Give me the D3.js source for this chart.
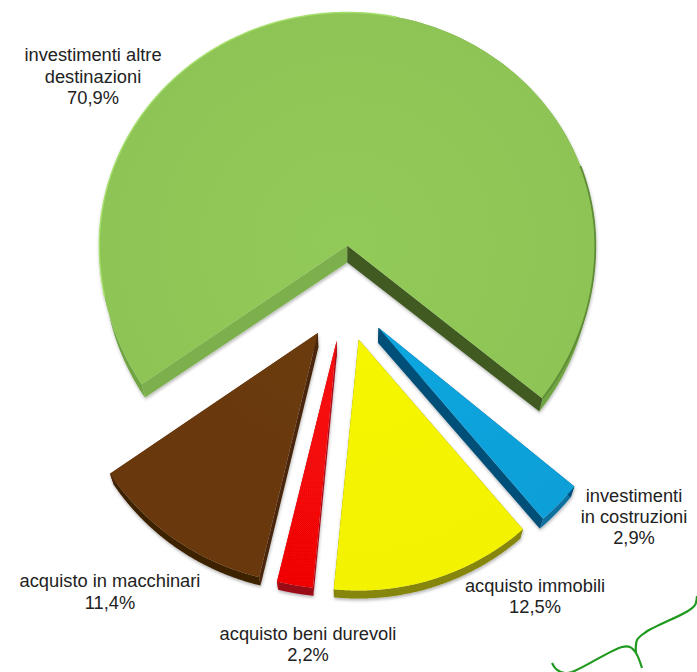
<!DOCTYPE html>
<html><head><meta charset="utf-8">
<style>html,body{margin:0;padding:0;background:#fff}svg{display:block}</style>
<script src="https://cdn.jsdelivr.net/npm/d3@7"></script></head><body>
<svg id="c" width="697" height="672"></svg>
<script>
const categories=["investimenti altre destinazioni","investimenti in costruzioni","acquisto immobili","acquisto beni durevoli","acquisto in macchinari"];
const values=[70.9,2.9,12.5,2.2,11.4];
const valueLabels=["70,9%","2,9%","12,5%","2,2%","11,4%"];
const labelLines=[["investimenti altre","destinazioni"],["investimenti","in costruzioni"],["acquisto immobili"],["acquisto beni durevoli"],["acquisto in macchinari"]];
const labelX=[93,634,535,308,110];
const labelY=[61,502,592,640,587];
const labelGap=[21.5,21,21,21,22];
const faceInner=["#92ca59","#0aa6de","#f6f600","#f80808","#6c3b0b"];
const faceOuter=["#8ec455","#0a9fd8","#f3f205","#f00606","#693709"];
const rimColor=["#6fa443","#0b6f9f","#86860a","#9a0c18","#3d2006"];
const startEdge=["#7db04e","#05507a","#86860a","#a8101c","#4a2808"];
const endEdge=["#3f5a22","#054f78","#86860a","#b00a14","#4a2808"];
const radii=[248,252,251,248,251];
const nudgeStart=[1,-1.5,-1.8,-0.5,-0.4];
const nudgeEnd=[-2.4,-1.7,-0.3,0,0.9];

const cx=345,cy=293.5,explode=48;
const deg=Math.PI/180;
const svg=d3.select("#c");
const defs=svg.append("defs");
const f=defs.append("filter").attr("id","soft").attr("x","-10%").attr("y","-10%").attr("width","120%").attr("height","120%");
f.append("feGaussianBlur").attr("in","SourceGraphic").attr("stdDeviation",0.6).attr("result","b");
f.append("feDropShadow").attr("in","b").attr("dx",0.5).attr("dy",2).attr("stdDeviation",1.8).attr("flood-color","#000").attr("flood-opacity",0.28);
const pie=d3.pie().sort(null).startAngle(235*deg).endAngle((235+360)*deg);
const arcs=pie(values);
const line=d3.line();
// the far half of the disc is foreshortened by the 3D view
const foreshorten=d3.scaleLinear().domain([-1,0,1]).range([-0.94,0,1]);
const back=([x,y])=>[x-(x-346)*0.016,y+17-0.026*(y-245)];
const root=svg.append("g");
arcs.forEach((d,i)=>{
  const mid=(d.startAngle+d.endAngle)/2;
  const o=[cx+explode*Math.sin(mid),cy-explode*Math.cos(mid)];
  const a0=d.startAngle+nudgeStart[i]*deg,a1=d.endAngle+nudgeEnd[i]*deg,R=radii[i];
  const P=a=>[o[0]+R*Math.sin(a),o[1]+R*foreshorten(-Math.cos(a))];
  const g=root.append("g").attr("filter","url(#soft)");
  const A=P(a0),B=P(a1);
  const rimPts=d3.range(0,1.0001,0.005).map(t=>P(a0+t*(a1-a0)));
  g.append("path").attr("d",line(rimPts.concat(rimPts.map(back).reverse()))+"Z").attr("fill",rimColor[i]);
  g.append("path").attr("d",line([o,A,back(A),back(o)])+"Z").attr("fill",startEdge[i]);
  g.append("path").attr("d",line([o,B,back(B),back(o)])+"Z").attr("fill",endEdge[i]);
  const grad=defs.append("radialGradient").attr("id","f"+i).attr("gradientUnits","userSpaceOnUse")
    .attr("cx",o[0]).attr("cy",o[1]).attr("r",R);
  grad.append("stop").attr("offset",0).attr("stop-color",faceInner[i]);
  grad.append("stop").attr("offset",1).attr("stop-color",faceOuter[i]);
  g.append("path").attr("d",line([o].concat(rimPts))+"Z").attr("fill",`url(#f${i})`);
  if(i===0){
    const arcPts=(s,e)=>d3.range(s,e,0.5).map(v=>P(v*deg));
    g.append("path").attr("d",line(arcPts(258,372))).attr("fill","none").attr("stroke","#a6e06c").attr("stroke-width",1.4);
    g.append("path").attr("d",line(arcPts(360+70,a1/deg))).attr("fill","none").attr("stroke","#5f8c36").attr("stroke-width",1.8);
  }
});
const t=svg.append("g").attr("font-family","'Liberation Sans',Arial,sans-serif").attr("font-size",18.3).attr("fill","#222").attr("text-anchor","middle");
categories.forEach((c,i)=>{
  const lines=labelLines[i].concat([valueLabels[i]]);
  lines.forEach((s,j)=>t.append("text").attr("x",labelX[i]).attr("y",labelY[i]+j*labelGap[i]).text(s));
});
const brace=[[552,663],[556,669],[565,673],[572,672],[622,647],[630,647],[636,653],[642,668]];
const brace2=[[636,653],[637,640],[646,632],[688,611],[695,605],[697,596]];
[brace,brace2].forEach(b=>svg.append("path").attr("d",d3.line().curve(d3.curveCatmullRom)(b)).attr("fill","none").attr("stroke","#1f9a1f").attr("stroke-width",2.2));
</script></body></html>
